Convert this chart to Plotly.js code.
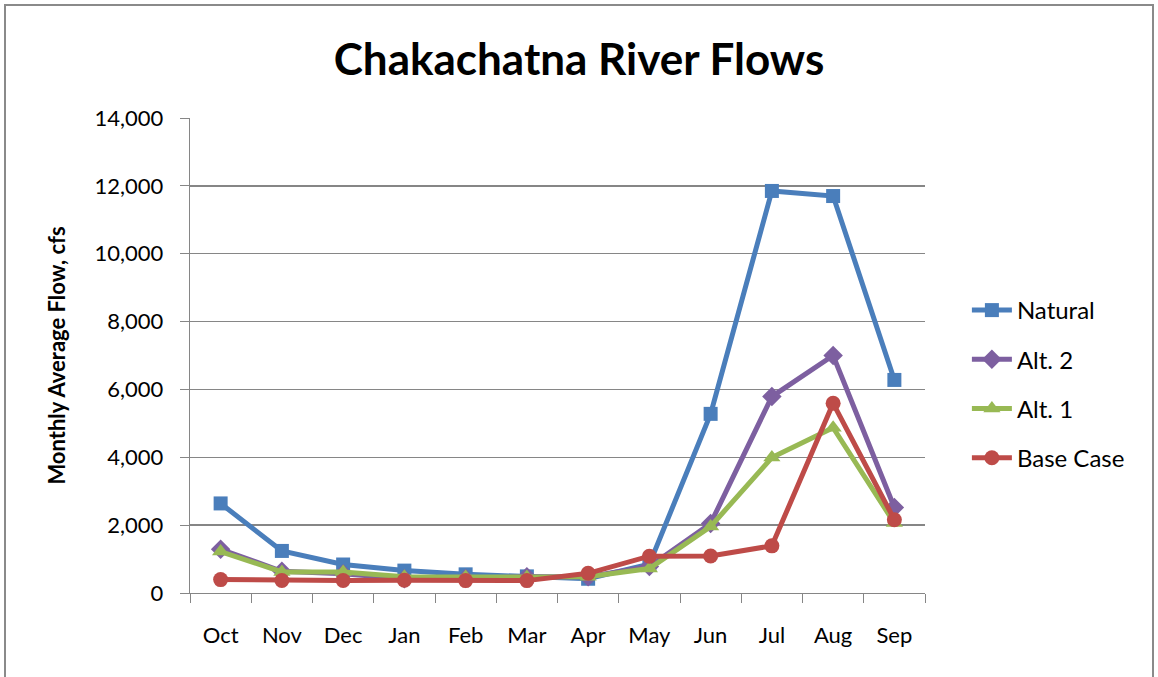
<!DOCTYPE html>
<html>
<head>
<meta charset="utf-8">
<script src="https://cdn.plot.ly/plotly-3.0.1.min.js"></script>
<style>
  html, body { margin: 0; padding: 0; background: #fff; }
  #chart { width: 1158px; height: 677px; position: absolute; left: 0; top: 0; }
  #frame { position: absolute; left: 4px; top: 4px; width: 1150px; height: 700px;
           border: 2px solid #8a8a8a; pointer-events: none; box-sizing: border-box; }
</style>
</head>
<body>
<div id="chart"></div>
<div id="frame"></div>
<script>
const months = ["Oct","Nov","Dec","Jan","Feb","Mar","Apr","May","Jun","Jul","Aug","Sep"];
const natural  = [2640, 1240, 840, 660, 550, 490, 420, 850, 5280, 11850, 11700, 6280];
const alt2     = [1290, 640, 570, 420, 430, 480, 480, 780, 2050, 5790, 7000, 2520];
const alt1     = [1220, 620, 620, 480, 470, 470, 480, 720, 1960, 3990, 4870, 2060];
const baseCase = [395, 370, 370, 375, 365, 365, 580, 1085, 1090, 1390, 5590, 2160];
const yTicks   = [0, 2000, 4000, 6000, 8000, 10000, 12000, 14000];
const yTickText = ["0","2,000","4,000","6,000","8,000","10,000","12,000","14,000"];

const font = "Lato, 'Open Sans', sans-serif";

function series(name, y, color, symbol, size, group) {
  return {
    type: "scatter", mode: "lines+markers", name: name, x: months, y: y,
    legendgroup: group,
    line: {color: color, width: 5},
    marker: {color: color, symbol: symbol, size: size}
  };
}

const data = [
  series("Natural", natural, "#4a7ebb", "square", 14, "a"),
  series("Alt. 2", alt2, "#7d5fa0", "diamond", 15, "b"),
  series("Alt. 1", alt1, "#98b954", "triangle-up", 15, "c"),
  series("Base Case", baseCase, "#be4b48", "circle", 15, "d")
];

const layout = {
  width: 1158, height: 677,
  paper_bgcolor: "#fff", plot_bgcolor: "#fff",
  margin: {l: 190, r: 233, t: 118, b: 84},
  font: {family: font, color: "#000"},
  title: {text: "<b>Chakachatna River Flows</b>", font: {family: font, size: 44, color: "#000"},
          x: 0.5, xref: "container", xanchor: "center", y: 0.912, yanchor: "middle"},
  xaxis: {
    type: "category", tickson: "boundaries", ticks: "outside", ticklen: 9, tickcolor: "#868686",
    showline: true, linecolor: "#868686", linewidth: 1.3, showgrid: false,
    tickfont: {family: font, size: 22, color: "#000"}, zeroline: false,
    ticklabelstandoff: 22,
    range: [-0.5, 11.5], fixedrange: true
  },
  yaxis: {
    range: [0, 14000], tickvals: yTicks, ticktext: yTickText,
    ticks: "outside", ticklen: 9, tickcolor: "#868686",
    showline: true, linecolor: "#868686", linewidth: 1.3,
    showgrid: true, gridcolor: "#868686", gridwidth: 1.3, zeroline: false,
    tickfont: {family: font, size: 22, color: "#000"},
    ticklabelstandoff: 12,
    title: {text: "<b>Monthly Average Flow, cfs</b>", font: {family: font, size: 22, color: "#000"}, standoff: 22}
  },
  showlegend: true,
  legend: {
    x: 1.057, xanchor: "left", y: 0.44, yanchor: "middle",
    traceorder: "grouped", tracegroupgap: 15,
    font: {family: font, size: 24, color: "#000"},
    bgcolor: "rgba(0,0,0,0)", itemwidth: 40
  }
};

Plotly.newPlot("chart", data, layout, {displayModeBar: false, staticPlot: true});
</script>
</body>
</html>
